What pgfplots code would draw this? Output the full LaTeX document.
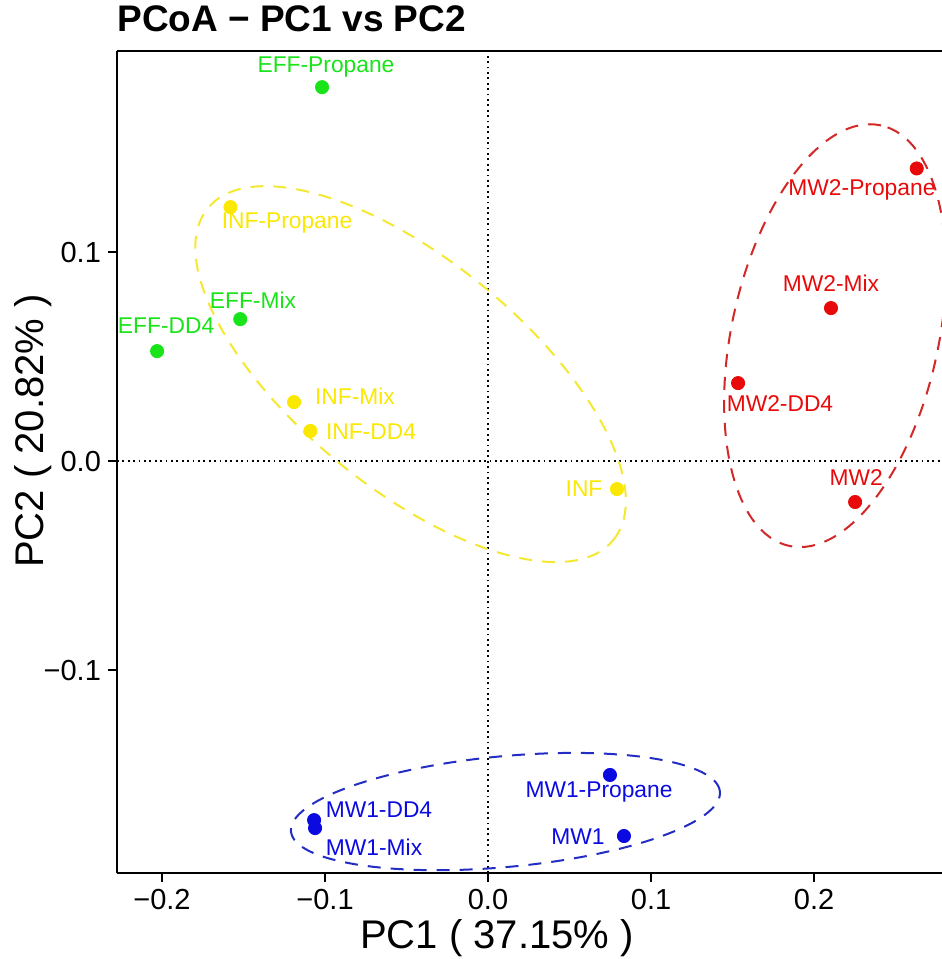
\documentclass[border=0pt]{standalone}
\usepackage{fontspec}
\setmainfont{Liberation Sans}
\usepackage{pgfplots}
\usepackage{pgfplotstable}
\pgfplotsset{compat=1.18}
\usetikzlibrary{calc}

\definecolor{effgreen}{RGB}{25,228,25}
\definecolor{infyellow}{RGB}{250,232,0}
\definecolor{mwtwored}{RGB}{232,10,10}
\definecolor{mwoneblue}{RGB}{10,10,225}
\definecolor{ellyellow}{RGB}{245,232,50}
\definecolor{ellred}{RGB}{210,40,40}
\definecolor{ellblue}{RGB}{35,45,195}

% point coords (x,y) and label centres (lx,ly)
\pgfplotstableread{
x       y       lx       ly       name
-0.1018 0.1789  -0.0994  0.1885   EFF-Propane
-0.1520 0.0679  -0.1442  0.0770   EFF-Mix
-0.2030 0.0526  -0.1975  0.0646   EFF-DD4
}\eff
\pgfplotstableread{
x       y       lx       ly       name
-0.1580 0.1215  -0.1233  0.1139   INF-Propane
-0.1190 0.0282  -0.0816  0.0311   INF-Mix
-0.1090 0.0144  -0.0718  0.0139   INF-DD4
 0.0791 -0.0134  0.0589  -0.0134  INF
}\inf
\pgfplotstableread{
x       y       lx       ly       name
 0.2630 0.1400   0.2294  0.1297   MW2-Propane
 0.2104 0.0732   0.2104  0.0852   MW2-Mix
 0.1534 0.0373   0.1791  0.0273   MW2-DD4
 0.2252 -0.0196  0.2258  -0.0081  MW2
}\mwtwo
\pgfplotstableread{
x       y       lx       ly       name
 0.0748 -0.1502  0.0681  -0.1584  MW1-Propane
 0.0834 -0.1794  0.0552  -0.1799  MW1
-0.1067 -0.1718 -0.0669  -0.1670  MW1-DD4
-0.1061 -0.1756 -0.0699  -0.1847  MW1-Mix
}\mwone

\newcommand{\lblfont}{\fontsize{11.4}{11.4}\selectfont}

\begin{document}
\begin{tikzpicture}
\begin{axis}[
    name=ax,
    scale only axis,
    width=412.5pt, height=411pt,
    xmin=-0.2276, xmax=0.2785,
    ymin=-0.1971, ymax=0.1962,
    axis x line*=bottom, axis y line*=left,
    axis line style={black, line width=1pt},
    tick style={black, line width=1pt},
    tick align=outside,
    major tick length=4.5pt,
    xtick={-0.2,-0.1,0,0.1,0.2},
    xticklabels={−0.2,−0.1,0.0,0.1,0.2},
    ytick={-0.1,0,0.1},
    yticklabels={−0.1,0.0,0.1},
    tick label style={font=\fontsize{14.5}{14.5}\selectfont, black},
    mark size=3.3pt,
]
% zero lines
\draw[black, line width=0.9pt, dash pattern=on 0.9pt off 1.8pt] (axis cs:0,-0.1971) -- (axis cs:0,0.1962);
\draw[black, line width=0.9pt, dash pattern=on 0.9pt off 1.8pt] (axis cs:-0.2276,0) -- (axis cs:0.2785,0);

% confidence ellipses
\draw[ellyellow, line width=1pt, dash pattern=on 6.5pt off 5pt, rotate around={-39.3:(axis cs:-0.0475,0.0416)}] (axis cs:-0.0475,0.0416) ellipse [x radius=131pt, y radius=57pt];
\draw[ellred, line width=1pt, dash pattern=on 6.5pt off 5pt, rotate around={77.7:(axis cs:0.2129,0.0600)}] (axis cs:0.2129,0.0600) ellipse [x radius=107.6pt, y radius=51.7pt];
\draw[ellblue, line width=1pt, dash pattern=on 6.5pt off 5pt, rotate around={5.3:(axis cs:0.0107,-0.1677)}] (axis cs:0.0107,-0.1677) ellipse [x radius=107.7pt, y radius=27.7pt];

% points
\addplot[only marks, mark=*, effgreen] table[x=x, y=y] {\eff};
\addplot[only marks, mark=*, infyellow] table[x=x, y=y] {\inf};
\addplot[only marks, mark=*, mwtwored] table[x=x, y=y] {\mwtwo};
\addplot[only marks, mark=*, mwoneblue] table[x=x, y=y] {\mwone};

% labels
\pgfplotsset{lbl/.style={draw=none, mark=none, nodes near coords, point meta=explicit symbolic,
    nodes near coords align={anchor=center},
    every node near coord/.append style={text=#1, font=\lblfont, inner sep=0pt}}}
\addplot[lbl=effgreen] table[x=lx, y=ly, meta=name] {\eff};
\addplot[lbl=infyellow] table[x=lx, y=ly, meta=name] {\inf};
\addplot[lbl=mwtwored] table[x=lx, y=ly, meta=name] {\mwtwo};
\addplot[lbl=mwoneblue] table[x=lx, y=ly, meta=name] {\mwone};
\end{axis}

\draw[black, line width=1pt] (ax.north west) -- (ax.north east);

\node[anchor=base west, font=\bfseries\fontsize{18.5}{18.5}\selectfont, inner sep=0pt]
    at ($(ax.north west)+(0,9.5pt)$) {PCoA − PC1 vs PC2};
\node[anchor=base, font=\fontsize{20}{20}\selectfont, inner sep=0pt]
    at ($(ax.south west)+(190pt,-37.5pt)$) {PC1 ( 37.15\% )};
\node[anchor=center, rotate=90, font=\fontsize{20}{20}\selectfont, inner sep=0pt]
    at ($(ax.south west)+(-42pt,221pt)$) {PC2 ( 20.82\% )};

\pgfresetboundingbox
\useasboundingbox ($(ax.south west)+(-58.5pt,-43pt)$) rectangle ($(ax.north east)+(0,25.5pt)$);
\end{tikzpicture}
\end{document}
